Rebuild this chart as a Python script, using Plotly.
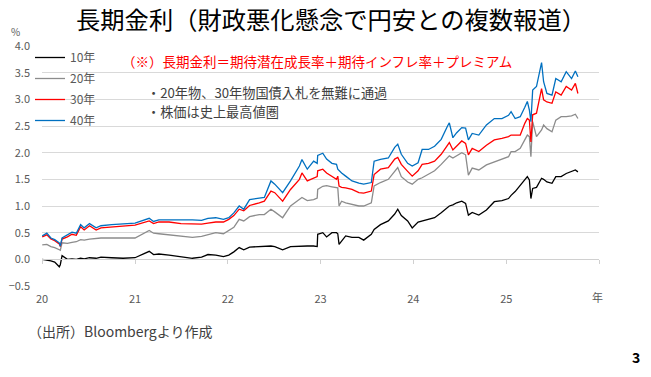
import plotly.graph_objects as go

# ---- data ----
dates = [
    "2020-01-02", "2020-01-20", "2020-02-05", "2020-02-20", "2020-03-09", "2020-03-13",
    "2020-03-20", "2020-04-10", "2020-04-28", "2020-05-15", "2020-06-01", "2020-06-15",
    "2020-07-06", "2020-08-01", "2020-08-20", "2020-10-01", "2020-11-15", "2021-01-01",
    "2021-02-26", "2021-03-15", "2021-04-05", "2021-05-15", "2021-07-01", "2021-08-15",
    "2021-09-20", "2021-10-15", "2021-11-15", "2021-12-15", "2022-01-05", "2022-01-25",
    "2022-02-15", "2022-03-05", "2022-03-28", "2022-05-05", "2022-05-25", "2022-06-20",
    "2022-07-05", "2022-08-05", "2022-09-05", "2022-10-10", "2022-10-20", "2022-11-10",
    "2022-12-05", "2022-12-19", "2022-12-21", "2023-01-10", "2023-01-25", "2023-02-15",
    "2023-03-05", "2023-03-10", "2023-03-15", "2023-03-25", "2023-04-10", "2023-05-05",
    "2023-06-01", "2023-06-20", "2023-07-20", "2023-07-31", "2023-08-25", "2023-09-25",
    "2023-10-20", "2023-11-01", "2023-11-15", "2023-12-10", "2023-12-28", "2024-01-20",
    "2024-02-05", "2024-03-01", "2024-03-25", "2024-04-20", "2024-05-15", "2024-05-22",
    "2024-06-05", "2024-06-20", "2024-07-10", "2024-07-25", "2024-08-05", "2024-08-20",
    "2024-09-15", "2024-10-15", "2024-11-15", "2024-12-15", "2025-01-10", "2025-01-20",
    "2025-02-05", "2025-02-25", "2025-03-15", "2025-03-25", "2025-04-02", "2025-04-08",
    "2025-04-15", "2025-04-30", "2025-05-20", "2025-05-28", "2025-06-10", "2025-06-30",
    "2025-07-15", "2025-08-05", "2025-08-25", "2025-09-15", "2025-09-30", "2025-10-10",
]

y10 = [
    0.00, -0.01, -0.03, -0.05, -0.14, -0.10,
    0.07, 0.00, 0.01, 0.00, 0.02, 0.01,
    0.03, 0.02, 0.04, 0.03, 0.02, 0.03,
    0.15, 0.09, 0.10, 0.08, 0.05, 0.02,
    0.04, 0.09, 0.08, 0.05, 0.08, 0.14,
    0.22, 0.18, 0.23, 0.24, 0.24, 0.25,
    0.24, 0.18, 0.24, 0.25, 0.25, 0.25,
    0.25, 0.24, 0.47, 0.50, 0.42, 0.50,
    0.50, 0.48, 0.28, 0.35, 0.44, 0.41,
    0.41, 0.36, 0.47, 0.56, 0.65, 0.72,
    0.85, 0.94, 0.82, 0.72, 0.59, 0.70,
    0.72, 0.75, 0.78, 0.875, 0.97, 1.00,
    1.02, 1.06, 1.09, 1.05, 0.83, 0.88,
    0.83, 0.925, 1.08, 1.10, 1.14, 1.20,
    1.27, 1.39, 1.50, 1.55, 1.49, 1.14,
    1.33, 1.35, 1.52, 1.50, 1.45, 1.425,
    1.55, 1.55, 1.61, 1.65, 1.675, 1.64,
]

y20 = [
    0.27, 0.28, 0.24, 0.22, 0.18, 0.17,
    0.31, 0.30, 0.32, 0.33, 0.37, 0.36,
    0.38, 0.39, 0.40, 0.40, 0.40, 0.40,
    0.54, 0.49, 0.48, 0.46, 0.43, 0.41,
    0.43, 0.46, 0.50, 0.48, 0.54, 0.60,
    0.75, 0.72, 0.80, 0.84, 0.84, 0.94,
    0.89, 0.78, 1.00, 1.12, 1.16, 1.10,
    1.12, 1.15, 1.31, 1.37, 1.38, 1.36,
    1.34, 1.34, 1.00, 1.09, 1.06, 1.03,
    1.00, 1.00, 1.06, 1.375, 1.44, 1.50,
    1.65, 1.72, 1.55, 1.45, 1.41, 1.50,
    1.53, 1.59, 1.66, 1.78, 1.90, 1.94,
    1.90, 1.94, 2.00, 1.96, 1.58, 1.71,
    1.675, 1.77, 1.83, 1.88, 1.925, 2.02,
    2.02, 2.08, 2.25, 2.33, 2.30, 1.925,
    2.58, 2.30, 2.425, 2.52, 2.45, 2.39,
    2.61, 2.675, 2.675, 2.69, 2.72, 2.64,
]

y30 = [
    0.42, 0.46, 0.38, 0.35, 0.29, 0.24,
    0.38, 0.42, 0.47, 0.45, 0.61, 0.55,
    0.63, 0.55, 0.59, 0.61, 0.62, 0.64,
    0.72, 0.67, 0.70, 0.70, 0.67, 0.66,
    0.66, 0.68, 0.70, 0.70, 0.75, 0.82,
    0.94, 0.91, 1.01, 1.06, 1.09, 1.28,
    1.25, 1.09, 1.31, 1.50, 1.62, 1.47,
    1.52, 1.55, 1.66, 1.69, 1.62, 1.55,
    1.50, 1.56, 1.375, 1.35, 1.34, 1.31,
    1.25, 1.24, 1.28, 1.59, 1.69, 1.72,
    1.88, 1.91, 1.78, 1.65, 1.56, 1.66,
    1.78, 1.80, 1.84, 1.97, 2.15, 2.19,
    2.05, 2.125, 2.22, 2.175, 1.96, 2.08,
    2.02, 2.14, 2.24, 2.27, 2.30, 2.33,
    2.33, 2.33, 2.55, 2.64, 2.61, 2.20,
    2.71, 2.74, 3.20, 2.99, 2.95, 2.925,
    3.14, 3.08, 3.24, 3.175, 3.30, 3.11,
]

y40 = [
    0.44, 0.49, 0.40, 0.37, 0.31, 0.25,
    0.40, 0.46, 0.51, 0.49, 0.65, 0.59,
    0.67, 0.59, 0.63, 0.65, 0.66, 0.68,
    0.77, 0.71, 0.74, 0.74, 0.75, 0.74,
    0.73, 0.77, 0.78, 0.75, 0.78, 0.87,
    1.00, 0.94, 1.12, 1.14, 1.16, 1.47,
    1.41, 1.25, 1.47, 1.75, 1.87, 1.69,
    1.84, 1.80, 1.95, 1.99, 1.88, 1.80,
    1.78, 1.69, 1.66, 1.62, 1.56, 1.47,
    1.43, 1.41, 1.44, 1.84, 1.875, 1.90,
    2.10, 2.16, 1.97, 1.80, 1.75, 1.81,
    2.06, 2.06, 2.12, 2.25, 2.50, 2.56,
    2.28, 2.375, 2.47, 2.46, 2.24, 2.36,
    2.33, 2.52, 2.64, 2.64, 2.70, 2.77,
    2.64, 2.675, 2.85, 2.96, 2.80, 2.58,
    3.175, 3.24, 3.69, 3.33, 3.11, 3.08,
    3.39, 3.33, 3.52, 3.39, 3.53, 3.425,
]

series_names = ["10年", "20年", "30年", "40年"]
series_values = [y10, y20, y30, y40]
series_colors = ["#000000", "#8C8C8C", "#FF0000", "#0070C0"]

year_ticks = ["2020-01-01", "2021-01-01", "2022-01-01", "2023-01-01", "2024-01-01", "2025-01-01"]
year_labels = ["20", "21", "22", "23", "24", "25"]
y_ticks = [-0.5, 0.0, 0.5, 1.0, 1.5, 2.0, 2.5, 3.0, 3.5, 4.0]

title_text = "長期金利（財政悪化懸念で円安との複数報道）"
formula_text = "（※）長期金利＝期待潜在成長率＋期待インフレ率＋プレミアム"
note_lines = ["・20年物、30年物国債入札を無難に通過", "・株価は史上最高値圏"]
source_text = "（出所）Bloombergより作成"

FONT = "Noto Sans CJK JP"
W, H = 651, 377
# plot area in page pixels: x 42..599, y 46..286
ML, MT = 42, 46
MR, MB = W - 599, H - 286

fig = go.Figure()
for i, (name, vals, col) in enumerate(zip(series_names, series_values, series_colors)):
    fig.add_trace(go.Scatter(x=dates, y=vals, mode="lines", name=name,
                             legendgroup=f"g{i}",
                             line=dict(color=col, width=1.3)))

# carrier for the zero-crossing axis with tick marks
fig.add_trace(go.Scatter(x=[], y=[], xaxis="x2", yaxis="y", showlegend=False,
                         hoverinfo="skip"))

x_range = ["2020-01-01", "2026-01-01"]

fig.update_layout(
    width=W, height=H,
    margin=dict(l=ML, r=MR, t=MT, b=MB, autoexpand=False),
    paper_bgcolor="white", plot_bgcolor="white",
    font=dict(family=FONT, color="#595959", size=11),
    title=dict(text=title_text, x=331 / W, xref="container", xanchor="center",
               y=1 - 20 / H, yref="container", yanchor="middle",
               font=dict(family=FONT, size=24.3, color="#000000")),
    showlegend=True,
    legend=dict(xref="container", yref="container", x=30 / W, y=1 - 43 / H,
                xanchor="left", yanchor="top", bgcolor="rgba(0,0,0,0)",
                font=dict(family=FONT, size=12, color="#595959"),
                itemwidth=30, tracegroupgap=2),
    xaxis=dict(type="date", range=x_range, tickvals=year_ticks, ticktext=year_labels,
               showgrid=False, zeroline=False, showline=False, ticks="",
               ticklabelstandoff=5, tickfont=dict(size=11, color="#595959")),
    xaxis2=dict(type="date", range=x_range, overlaying="x", anchor="free",
                position=0.5 / 4.5, showline=True, linecolor="#D0D0D0", linewidth=1,
                ticks="outside", ticklen=4, tickcolor="#D0D0D0",
                tickvals=year_ticks + ["2026-01-01"], showticklabels=False,
                showgrid=False, zeroline=False),
    yaxis=dict(range=[-0.5, 4.0], tickvals=y_ticks, tickformat=".1f",
               showgrid=True, gridcolor="#D9D9D9", gridwidth=1, zeroline=False,
               showline=False, ticks="", ticklabelstandoff=11,
               tickfont=dict(size=11, color="#595959")),
)

pw = W - ML - MR
ph = H - MT - MB

def px(x):
    # page pixel x -> paper coordinate
    return (x - ML) / pw

def py(y):
    # page pixel y -> paper coordinate
    return (H - MB - y) / ph

annos = [
    dict(text=formula_text, x=px(120), y=py(61), xanchor="left", yanchor="middle",
         font=dict(family=FONT, size=13.5, color="#FF0000")),
    dict(text=note_lines[0], x=px(146), y=py(92.5), xanchor="left", yanchor="middle",
         borderpad=0, font=dict(family=FONT, size=13.2, color="#404040")),
    dict(text=note_lines[1], x=px(146), y=py(111.5), xanchor="left", yanchor="middle",
         borderpad=0, font=dict(family=FONT, size=13.2, color="#404040")),
    dict(text="%", x=px(15), y=py(32), xanchor="center", yanchor="middle",
         font=dict(family=FONT, size=10, color="#595959")),
    dict(text="年", x=px(597), y=py(297), xanchor="center", yanchor="middle",
         font=dict(family=FONT, size=11, color="#595959")),
    dict(text=source_text, x=px(26), y=py(331), xanchor="left", yanchor="middle",
         font=dict(family=FONT, size=14, color="#404040")),
    dict(text="<b>3</b>", x=px(636), y=py(357), xanchor="center", yanchor="middle",
         font=dict(family=FONT, size=14, color="#000000")),
]
for a in annos:
    a.update(xref="paper", yref="paper", showarrow=False)
fig.update_layout(annotations=annos)

# remove the browser's default page margin so the figure fills the window exactly
fig.write_html("out.html",
               config={"displayModeBar": False},
               post_script="document.body.style.margin='0px';document.body.style.overflow='hidden';")
